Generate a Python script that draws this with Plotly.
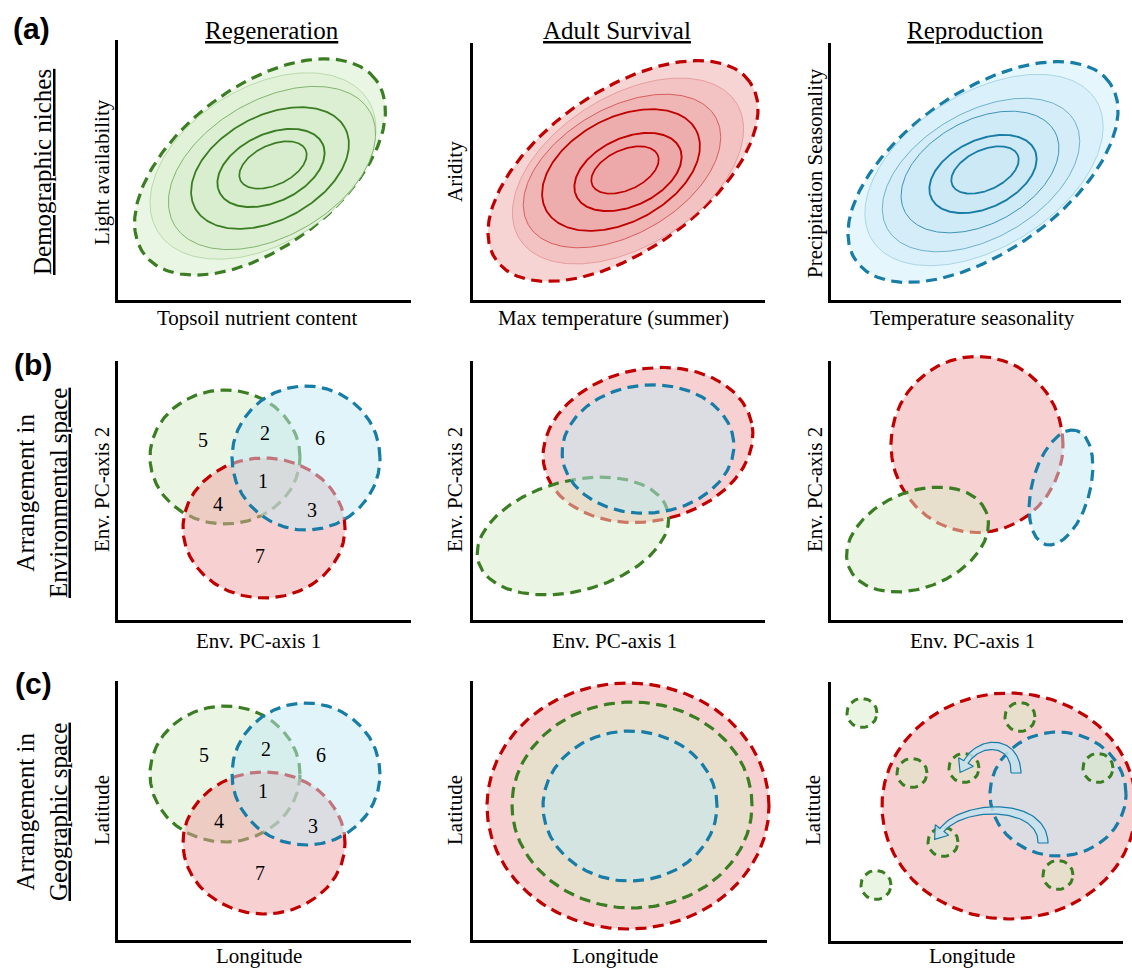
import numpy as np
import plotly.graph_objects as go

W, H = 1132, 970
SERIF = "Liberation Serif, Times New Roman, serif"
SANS = "Liberation Sans, Arial, sans-serif"

LINE = {"g": "#3b7d23", "r": "#c00000", "b": "#177ca6"}
FILL = {"g": "rgba(215,235,199,0.5)", "r": "rgba(239,163,163,0.5)", "b": "rgba(193,233,245,0.5)"}
DASH = "11px,6.5px"

# ---------------------------------------------------------------- data
# Row (a): nested demographic-niche contours, outermost first
# (centre x, centre y, semi-major a, semi-minor b, tilt in degrees)
regen_cx = [144, 147, 156, 154, 155, 157]
regen_cy = [134, 135, 133, 133, 133, 136]
regen_a = [145, 124, 113, 85, 57, 36]
regen_b = [80, 78, 68, 52, 34, 20]
regen_tilt = [37, 32, 30, 28, 25, 25]

surv_cx = [152, 157, 151, 150, 157, 154]
surv_cy = [130, 130, 130, 131, 129, 131]
surv_a = [155, 128, 108, 85, 57, 36]
surv_b = [80, 75, 63, 52, 34, 20]
surv_tilt = [35, 32, 30, 28, 25, 25]

repro_cx = [154, 155, 152, 151, 154, 156]
repro_cy = [129, 131, 126, 129, 127, 131]
repro_a = [155, 132, 108, 85, 57, 36]
repro_b = [80, 77, 63, 52, 34, 20]
repro_tilt = [35, 32, 30, 28, 25, 25]

# Rows (b) and (c): niche / range ellipses, listed in drawing order
# g = regeneration, r = adult survival, b = reproduction
env1_keys = ["g", "r", "b"]
env1_cx = [109, 148, 190]
env1_cy = [164, 93, 163]
env1_a = [75, 81, 74]
env1_b = [67, 70, 72]
env1_tilt = [0, 0, 0]

env2_keys = ["r", "g", "b"]
env2_cx = [177, 102, 177]
env2_cy = [176, 85, 172]
env2_a = [106, 98, 86]
env2_b = [76, 55, 64]
env2_tilt = [12, 15, 5]

env3_keys = ["r", "g", "b"]
env3_cx = [148, 88.5, 232]
env3_cy = [176.5, 81.5, 133.5]
env3_a = [86, 74, 59]
env3_b = [88, 48, 29]
env3_tilt = [0, 22, 75]

geo1_keys = ["g", "r", "b"]
geo1_cx = [109, 148, 190]
geo1_cy = [167, 98, 167]
geo1_a = [75, 81, 74]
geo1_b = [68, 71, 71]
geo1_tilt = [0, 0, 0]

geo2_keys = ["r", "g", "b"]
geo2_cx = [157, 161, 159]
geo2_cy = [135, 136, 135]
geo2_a = [141, 120, 87]
geo2_b = [123, 103, 75]
geo2_tilt = [0, 0, 0]

geo3_keys = ["r", "b"]
geo3_cx = [180, 229]
geo3_cy = [136, 148]
geo3_a = [127, 68]
geo3_b = [113, 62]
geo3_tilt = [0, 0]

# scattered regeneration patches in geographic space
patch_x = [33, 191, 83, 135, 269, 114, 229, 47]
patch_y = [229, 225, 169, 174, 174, 100, 67, 57]
patch_r = 15

# dispersal arrows: tail, two control points, head base (cubic Bezier)
arrow_tail = [(187, 169), (214, 99)]
arrow_c1 = [(187, 203), (214, 140)]
arrow_c2 = [(150, 203), (135, 140)]
arrow_head = [(137, 180), (113, 112)]

# Venn region labels
venn_labels = ["1", "2", "3", "4", "5", "6", "7"]
venn_env_x = [147, 149, 196, 102, 87, 204, 144]
venn_env_y = [138, 186, 109, 115, 179, 181, 63]
venn_geo_x = [147, 150, 197, 103, 88, 205, 144]
venn_geo_y = [148, 190, 113, 118, 184, 184, 66]

# ---------------------------------------------------------------- layout of panels
# axis frames: left, right, top, bottom (page pixels, line centres)
FRAMES = [
    (116, 411, 40, 301), (471, 765, 43, 301), (829, 1121, 43, 301),
    (116, 411, 361, 621), (471, 765, 361, 621), (829, 1123, 361, 621),
    (116, 411, 681, 941), (471, 767, 681, 941), (829, 1123, 682, 942),
]


def axref(letter, i):
    return letter if i == 1 else f"{letter}{i}"


def axkey(letter, i):
    return f"{letter}axis" if i == 1 else f"{letter}axis{i}"


def ellipse(cx, cy, a, b, tilt, n=240):
    t = np.linspace(0, 2 * np.pi, n)
    th = np.radians(tilt)
    x = cx + a * np.cos(t) * np.cos(th) - b * np.sin(t) * np.sin(th)
    y = cy + a * np.cos(t) * np.sin(th) + b * np.sin(t) * np.cos(th)
    return x, y


def curved_arrow(p0, p1, p2, p3, w0=10.0, w1=5.0, head_w=17.0, head_len=12.0, n=60):
    p0, p1, p2, p3 = (np.array(p, float) for p in (p0, p1, p2, p3))
    t = np.linspace(0, 1, n)[:, None]
    pts = (1 - t) ** 3 * p0 + 3 * (1 - t) ** 2 * t * p1 + 3 * (1 - t) * t ** 2 * p2 + t ** 3 * p3
    d = 3 * (1 - t) ** 2 * (p1 - p0) + 6 * (1 - t) * t * (p2 - p1) + 3 * t ** 2 * (p3 - p2)
    tang = d / np.linalg.norm(d, axis=1, keepdims=True)
    nrm = np.column_stack([-tang[:, 1], tang[:, 0]])
    half = (w0 + (w1 - w0) * t[:, 0]) / 2
    left = pts + nrm * half[:, None]
    right = pts - nrm * half[:, None]
    tip = p3 + tang[-1] * head_len
    wing_l = p3 + nrm[-1] * head_w / 2
    wing_r = p3 - nrm[-1] * head_w / 2
    poly = np.vstack([left, wing_l, tip, wing_r, right[::-1], left[:1]])
    return poly[:, 0], poly[:, 1]


fig = go.Figure()
axes_layout = {}

for k, (L, R, T, B) in enumerate(FRAMES):
    di, fi = 2 * k + 1, 2 * k + 2
    dx0, dx1 = max(0, L - 30), min(W, R + 30)
    dyt, dyb = max(0, T - 30), min(H, B + 20)
    axes_layout[axkey("x", di)] = dict(domain=[dx0 / W, dx1 / W], range=[dx0 - L, dx1 - L],
                                       anchor=axref("y", di), visible=False, fixedrange=True)
    axes_layout[axkey("y", di)] = dict(domain=[1 - dyb / H, 1 - dyt / H], range=[B - dyb, B - dyt],
                                       anchor=axref("x", di), visible=False, fixedrange=True)
    frame_common = dict(showline=True, linewidth=3, linecolor="black", showgrid=False,
                        zeroline=False, ticks="", showticklabels=False, fixedrange=True, range=[0, 1])
    axes_layout[axkey("x", fi)] = dict(domain=[(L + 1.5) / W, R / W], anchor=axref("y", fi), **frame_common)
    axes_layout[axkey("y", fi)] = dict(domain=[1 - (B - 1.5) / H, 1 - T / H], anchor=axref("x", fi), **frame_common)
    fig.add_trace(go.Scatter(x=[None], y=[None], mode="lines", hoverinfo="skip", showlegend=False,
                             xaxis=axref("x", fi), yaxis=axref("y", fi)))


def panel_axes(k):
    return dict(xaxis=axref("x", 2 * k + 1), yaxis=axref("y", 2 * k + 1))


def add_shape_trace(k, x, y, fill, line_color, width, dash=None):
    fig.add_trace(go.Scatter(
        x=x, y=y, mode="lines", fill="toself", fillcolor=fill,
        line=dict(color=line_color, width=width, dash=dash),
        hoverinfo="skip", showlegend=False, **panel_axes(k)))


# ---- row (a): nested contour niches
contour_styles = {
    "g": dict(fills=["#eaf6e4", "#e1f2d9", "#dcefd3", "#d9eecf", "#d8edce", "#d8edce"],
              lines=["#3b7d23", "#a4cf94", "#77ad63", "#3b7d23", "#3b7d23", "#3b7d23"],
              widths=[3.2, 0.7, 0.9, 1.8, 1.9, 1.7]),
    "r": dict(fills=["#f7d4d4", "#f3c2c2", "#f0b5b5", "#eeadad", "#eda9a9", "#eda9a9"],
              lines=["#c00000", "#e08a8a", "#d25252", "#c00000", "#c00000", "#c00000"],
              widths=[3.2, 0.7, 0.9, 1.8, 1.9, 1.7]),
    "b": dict(fills=["#e5f6fc", "#daf0fa", "#d4edf8", "#cfebf7", "#cde9f6", "#cde9f6"],
              lines=["#177ca6", "#92c8de", "#63a9c7", "#3f93b8", "#177ca6", "#177ca6"],
              widths=[3.2, 0.7, 0.9, 1.0, 1.9, 1.8]),
}
niche_sets = [
    (0, "g", regen_cx, regen_cy, regen_a, regen_b, regen_tilt),
    (1, "r", surv_cx, surv_cy, surv_a, surv_b, surv_tilt),
    (2, "b", repro_cx, repro_cy, repro_a, repro_b, repro_tilt),
]
for k, key, cxs, cys, As, Bs, tilts in niche_sets:
    st = contour_styles[key]
    for lvl, (cx, cy, a, b, tl) in enumerate(zip(cxs, cys, As, Bs, tilts)):
        x, y = ellipse(cx, cy, a, b, tl)
        add_shape_trace(k, x, y, st["fills"][lvl], st["lines"][lvl], st["widths"][lvl],
                        DASH if lvl == 0 else None)

# ---- rows (b), (c): overlapping niches and ranges
overlap_sets = [
    (3, env1_keys, env1_cx, env1_cy, env1_a, env1_b, env1_tilt),
    (4, env2_keys, env2_cx, env2_cy, env2_a, env2_b, env2_tilt),
    (5, env3_keys, env3_cx, env3_cy, env3_a, env3_b, env3_tilt),
    (6, geo1_keys, geo1_cx, geo1_cy, geo1_a, geo1_b, geo1_tilt),
    (7, geo2_keys, geo2_cx, geo2_cy, geo2_a, geo2_b, geo2_tilt),
    (8, geo3_keys, geo3_cx, geo3_cy, geo3_a, geo3_b, geo3_tilt),
]
for k, keys, cxs, cys, As, Bs, tilts in overlap_sets:
    for key, cx, cy, a, b, tl in zip(keys, cxs, cys, As, Bs, tilts):
        x, y = ellipse(cx, cy, a, b, tl)
        add_shape_trace(k, x, y, FILL[key], LINE[key], 3.2, DASH)

# regeneration patches scattered across the geographic range
for px, py in zip(patch_x, patch_y):
    x, y = ellipse(px, py, patch_r, patch_r * 0.97, 0, n=90)
    add_shape_trace(8, x, y, FILL["g"], LINE["g"], 3.0, "8px,5.5px")

# dispersal arrows from the reproduction range
for p0, p1, p2, p3 in zip(arrow_tail, arrow_c1, arrow_c2, arrow_head):
    x, y = curved_arrow(p0, p1, p2, p3)
    add_shape_trace(8, x, y, "rgba(196,226,238,0.85)", LINE["b"], 1.2)

# Venn region numbers
for k, vx, vy in [(3, venn_env_x, venn_env_y), (6, venn_geo_x, venn_geo_y)]:
    fig.add_trace(go.Scatter(x=vx, y=vy, mode="text", text=venn_labels,
                             textfont=dict(family=SERIF, size=20, color="black"),
                             hoverinfo="skip", showlegend=False, **panel_axes(k)))

# ---------------------------------------------------------------- text
annotations = []


def label(text, px, py, size, angle=0, family=SERIF, bold=False):
    annotations.append(dict(
        text=f"<b>{text}</b>" if bold else text, x=px / W, y=1 - py / H,
        xref="paper", yref="paper", xanchor="center", yanchor="middle",
        textangle=angle, showarrow=False,
        font=dict(family=family, size=size, color="black")))


label("(a)", 31, 28, 30, family=SANS, bold=True)
label("(b)", 33, 364, 30, family=SANS, bold=True)
label("(c)", 33, 683, 30, family=SANS, bold=True)

label("<u>Regeneration</u>", 272, 30, 25)
label("<u>Adult Survival</u>", 617, 31, 25)
label("<u>Reproduction</u>", 975, 31, 25)

label("<u>Demographic niches</u>", 42, 172, 25, angle=-90)
label("Arrangement in<br><u>Environmental space</u>", 42, 493, 25, angle=-90)
label("Arrangement in<br><u>Geographic space</u>", 42, 812, 25, angle=-90)

label("Light availability", 102, 172, 21, angle=-90)
label("Aridity", 455, 172, 21, angle=-90)
label("Precipitation Seasonality", 815, 173, 21, angle=-90)
label("Topsoil nutrient content", 257, 318, 21)
label("Max temperature (summer)", 613, 318, 21)
label("Temperature seasonality", 972, 318, 21)

for cx_, yx in [(102, 490), (455, 490), (815, 490)]:
    label("Env. PC-axis 2", cx_, yx, 21, angle=-90)
for cx_ in [258, 614, 972]:
    label("Env. PC-axis 1", cx_, 641, 21)

for cx_ in [102, 455, 813]:
    label("Latitude", cx_, 810, 21, angle=-90)
for cx_ in [259, 615, 972]:
    label("Longitude", cx_, 956, 21)

fig.update_layout(
    width=W, height=H, margin=dict(l=0, r=0, t=0, b=0),
    paper_bgcolor="white", plot_bgcolor="rgba(0,0,0,0)",
    showlegend=False, annotations=annotations, **axes_layout)

fig.write_html("out.html")
